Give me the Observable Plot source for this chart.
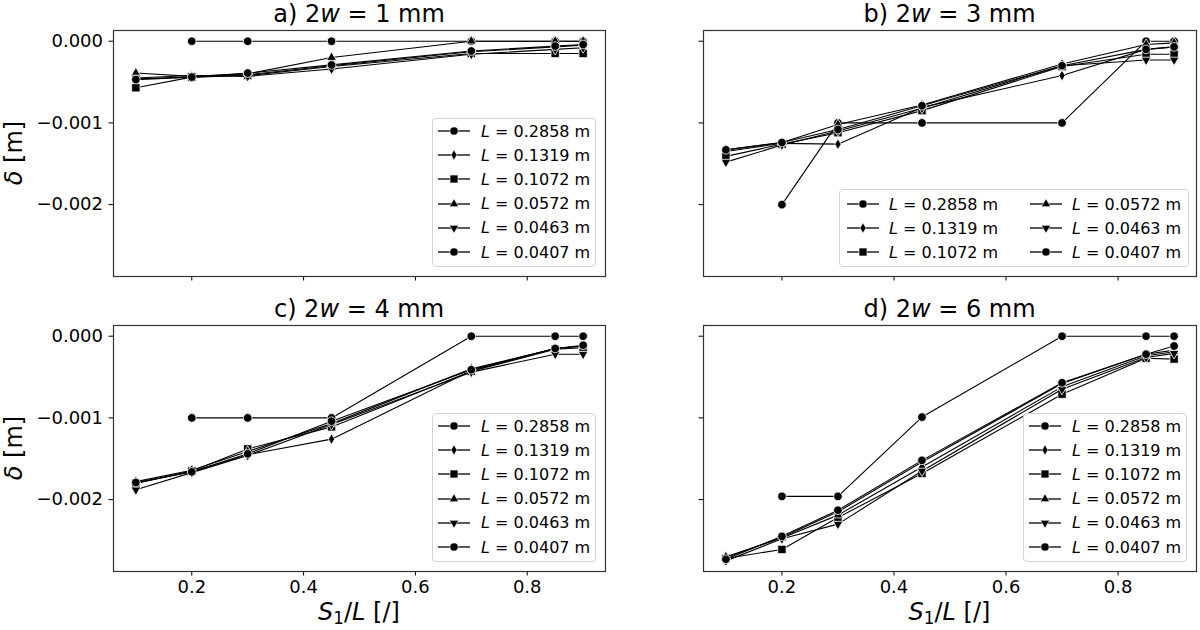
<!DOCTYPE html>
<html><head><meta charset="utf-8">
<script src="https://cdn.jsdelivr.net/npm/d3@7"></script>
<script src="https://cdn.jsdelivr.net/npm/@observablehq/plot@0.6"></script>
<style>
body{margin:0;background:#fff;}
#root{position:relative;width:1200px;height:630px;font-family:"DejaVu Sans",sans-serif;color:#000;overflow:hidden;background:#fff;}
.cell{position:absolute;}
.lbl{position:absolute;white-space:nowrap;transform:translate(-50%,-50%);line-height:1;}
.legend{position:absolute;background:rgba(255,255,255,0.85);border:1px solid #d3d3d3;border-radius:4px;box-sizing:border-box;}
.entry{position:absolute;height:20px;display:flex;align-items:center;font-size:16px;white-space:nowrap;}
.entry svg{display:block;}
sub{font-size:0.7em;vertical-align:-0.25em;line-height:0;}
</style></head><body><div id="root"></div>
<script>
// ---------- data ----------
const xs = [0.1, 0.2, 0.3, 0.45, 0.7, 0.85, 0.9];            // S1/L
const lengths = ["0.2858", "0.1319", "0.1072", "0.0572", "0.0463", "0.0407"];
const panelTitles = ["a", "b", "c", "d"];
const widths = ["1", "3", "4", "6"];                           // 2w in mm
const yTicks = [-0.002, -0.001, 0];
const xTicks = [0.2, 0.4, 0.6, 0.8];

// a) 2w = 1 mm
const a2858 = [null, 0, 0, 0, 0, 0, 0];
const a1319 = [-0.00046, -0.00044, -0.00041, -0.00030, -0.00013, -0.00007, -0.00005];
const a1072 = [-0.00057, -0.00044, -0.00042, -0.00031, -0.00015, -0.00015, -0.00015];
const a0572 = [-0.00039, -0.00043, -0.00040, -0.00020, 0, 0, 0];
const a0463 = [-0.00045, -0.00042, -0.00043, -0.00034, -0.00016, -0.00010, -0.00008];
const a0407 = [-0.00047, -0.00044, -0.00039, -0.00029, -0.00012, -0.00006, -0.00004];
// b) 2w = 3 mm
const b2858 = [null, -0.0020, -0.0010, -0.0010, -0.0010, 0, 0];
const b1319 = [-0.00135, -0.00125, -0.00126, -0.00081, -0.00042, -0.00010, -0.00007];
const b1072 = [-0.00141, -0.00126, -0.00112, -0.00085, -0.00031, -0.00016, -0.00016];
const b0572 = [-0.00133, -0.00124, -0.00102, -0.00078, -0.00028, -0.00004, -0.00002];
const b0463 = [-0.00148, -0.00127, -0.00110, -0.00082, -0.00030, -0.00023, -0.00023];
const b0407 = [-0.00133, -0.00124, -0.00108, -0.00079, -0.00030, -0.00010, -0.00007];
// c) 2w = 4 mm
const c2858 = [null, -0.0010, -0.0010, -0.0010, 0, 0, 0];
const c1319 = [-0.00180, -0.00166, -0.00145, -0.00126, -0.00042, -0.00015, -0.00012];
const c1072 = [-0.00180, -0.00165, -0.00138, -0.00111, -0.00043, -0.00016, -0.00014];
const c0572 = [-0.00178, -0.00164, -0.00141, -0.00107, -0.00040, -0.00015, -0.00012];
const c0463 = [-0.00188, -0.00167, -0.00146, -0.00108, -0.00044, -0.00022, -0.00022];
const c0407 = [-0.00179, -0.00166, -0.00144, -0.00104, -0.00041, -0.00015, -0.00011];
// d) 2w = 6 mm
const d2858 = [null, -0.00196, -0.00196, -0.00099, 0, 0, 0];
const d1319 = [-0.00271, -0.00246, -0.00215, -0.00154, -0.00058, -0.00022, -0.00017];
const d1072 = [-0.00272, -0.00261, -0.00222, -0.00168, -0.00071, -0.00027, -0.00028];
const d0572 = [-0.00270, -0.00247, -0.00219, -0.00160, -0.00062, -0.00024, -0.00019];
const d0463 = [-0.00275, -0.00248, -0.00230, -0.00165, -0.00065, -0.00026, -0.00021];
const d0407 = [-0.00273, -0.00245, -0.00213, -0.00152, -0.00057, -0.00022, -0.00012];

const panelSeries = [
  [a2858, a1319, a1072, a0572, a0463, a0407],
  [b2858, b1319, b1072, b0572, b0463, b0407],
  [c2858, c1319, c1072, c0572, c0463, c0407],
  [d2858, d1319, d1072, d0572, d0463, d0407]
];

// ---------- styles / layout ----------
const markers = [
  {symbol: "circle", r: 4.3, rotate: 0, d3: d3.symbolCircle},
  {symbol: "diamond", r: 3.3, rotate: 0, d3: d3.symbolDiamond},
  {symbol: "square", r: 4.7, rotate: 0, d3: d3.symbolSquare},
  {symbol: "triangle", r: 3.6, rotate: 0, d3: d3.symbolTriangle},
  {symbol: "triangle", r: 3.6, rotate: 180, d3: d3.symbolTriangle},
  {symbol: "circle", r: 4.3, rotate: 0, d3: d3.symbolCircle}
];
const xDomain = [0.06, 0.94];
const yDomain = [-0.00288, 0.000131];

const cells = [
  {left: 0,   top: 0,   width: 640, height: 300, ml: 113, mr: 35, mt: 30, mb: 24, showX: false, showY: true},
  {left: 640, top: 0,   width: 560, height: 300, ml: 63,  mr: 4,  mt: 30, mb: 24, showX: false, showY: false},
  {left: 0,   top: 295, width: 640, height: 335, ml: 113, mr: 35, mt: 30, mb: 59, showX: true,  showY: true},
  {left: 640, top: 295, width: 560, height: 335, ml: 63,  mr: 4,  mt: 30, mb: 59, showX: true,  showY: false}
];

const root = document.getElementById("root");
const yFmt = d3.format(".3f");

cells.forEach((c, p) => {
  const marks = [];
  marks.push(Plot.axisY({ticks: yTicks, tickFormat: c.showY ? yFmt : () => "", tickSize: 4.5, tickPadding: 6, label: null}));
  marks.push(Plot.axisX({ticks: xTicks, tickFormat: c.showX ? (d => d.toFixed(1)) : () => "", tickSize: 4.5, tickPadding: 4, label: null}));
  panelSeries[p].forEach((vals, i) => {
    const data = xs.map((x, j) => ({x, y: vals[j]})).filter(d => d.y != null);
    const m = markers[i];
    marks.push(Plot.line(data, {x: "x", y: "y", stroke: "#000", strokeWidth: 1.1}));
    marks.push(Plot.dot(data, {x: "x", y: "y", symbol: m.symbol, r: m.r, rotate: m.rotate, fill: "#000", stroke: "#fff", strokeWidth: 0.8}));
  });
  marks.push(Plot.frame({stroke: "#333", strokeWidth: 1.2}));
  const chart = Plot.plot({
    width: c.width, height: c.height,
    marginLeft: c.ml, marginRight: c.mr, marginTop: c.mt, marginBottom: c.mb,
    x: {domain: xDomain},
    y: {domain: yDomain},
    style: {fontFamily: "DejaVu Sans", fontSize: "18px", color: "#000", background: "transparent", overflow: "visible"},
    marks
  });
  const div = document.createElement("div");
  div.className = "cell";
  div.style.left = c.left + "px"; div.style.top = c.top + "px";
  div.appendChild(chart);
  root.appendChild(div);

  const boxL = c.left + c.ml, boxR = c.left + c.width - c.mr;
  const boxT = c.top + c.mt, boxB = c.top + c.height - c.mb;
  const cx = (boxL + boxR) / 2, cy = (boxT + boxB) / 2;

  // title
  addLabel(`${panelTitles[p]}) 2<i>w</i> = ${widths[p]} mm`, cx, boxT - 16, 24);
  if (c.showX) addLabel(`<i>S</i><sub>1</sub>/<i>L</i> [/]`, cx, boxB + 41, 24);
  if (c.showY) addLabel(`<i>δ</i> [m]`, c.left + 14, cy, 24, true);

  // legend
  if (p === 1) {
    makeLegend(boxR - 357, boxB - 87, 350, 78, lengths.map((_, i) => ({
      i, x: 7, y: 15 + (i % 3) * 24, tx: 50, col: i < 3 ? 0 : 183
    })));
  } else {
    makeLegend(boxR - 173, boxB - 158, 164, 149, lengths.map((_, i) => ({
      i, x: 5, y: 13 + i * 24.2, tx: 49, col: 0
    })));
  }
});

function addLabel(html, x, y, size, rotate) {
  const el = document.createElement("div");
  el.className = "lbl";
  el.innerHTML = html;
  el.style.left = x + "px"; el.style.top = y + "px";
  el.style.fontSize = size + "px";
  if (rotate) el.style.transform = "translate(-50%,-50%) rotate(-90deg)";
  root.appendChild(el);
}

function makeLegend(left, top, w, h, entries) {
  const lg = document.createElement("div");
  lg.className = "legend";
  lg.style.left = left + "px"; lg.style.top = top + "px";
  lg.style.width = w + "px"; lg.style.height = h + "px";
  entries.forEach(e => {
    const m = markers[e.i];
    const ns = "http://www.w3.org/2000/svg";
    const svg = document.createElementNS(ns, "svg");
    svg.setAttribute("width", 34); svg.setAttribute("height", 20);
    const ln = document.createElementNS(ns, "line");
    ln.setAttribute("x1", 1); ln.setAttribute("x2", 33); ln.setAttribute("y1", 10); ln.setAttribute("y2", 10);
    ln.setAttribute("stroke", "#000"); ln.setAttribute("stroke-width", 1.3);
    svg.appendChild(ln);
    const rr = m.r * 0.95;
    const path = document.createElementNS(ns, "path");
    path.setAttribute("d", d3.symbol(m.d3, Math.PI * rr * rr)());
    path.setAttribute("transform", `translate(17,10) rotate(${m.rotate})`);
    path.setAttribute("fill", "#000"); path.setAttribute("stroke", "#fff"); path.setAttribute("stroke-width", 0.6);
    svg.appendChild(path);
    const en = document.createElement("div");
    en.className = "entry";
    en.style.left = (e.col + e.x - 1) + "px"; en.style.top = (e.y - 10 - 1) + "px";
    en.appendChild(svg);
    const t = document.createElement("span");
    t.style.marginLeft = (e.tx - e.x - 34) + "px";
    t.innerHTML = `<i>L</i> = ${lengths[e.i]} m`;
    en.appendChild(t);
    lg.appendChild(en);
  });
  root.appendChild(lg);
}
</script></body></html>
